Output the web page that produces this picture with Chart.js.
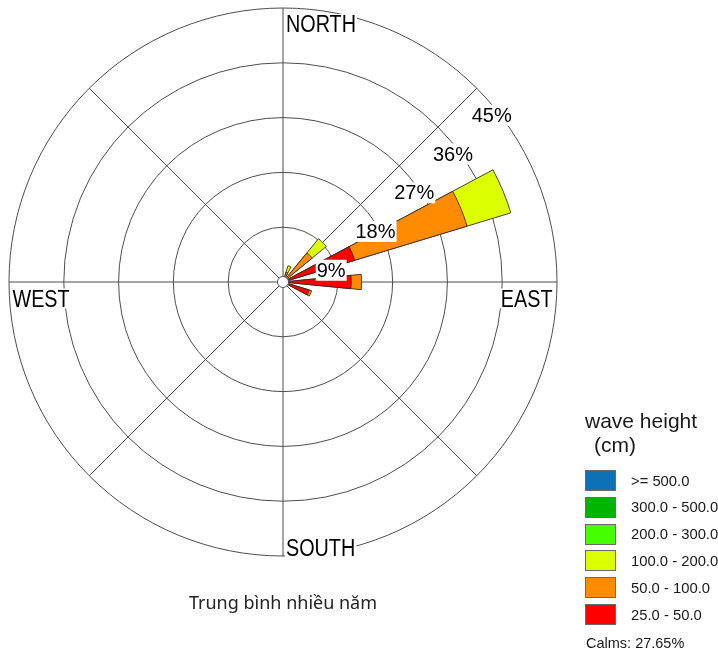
<!DOCTYPE html>
<html>
<head>
<meta charset="utf-8">
<script src="https://cdn.jsdelivr.net/npm/chart.js@4/dist/chart.umd.min.js"></script>
<style>
  html, body { margin: 0; padding: 0; background: #ffffff; }
  #wrap { position: relative; width: 718px; height: 655px; overflow: hidden; }
  #rose { position: absolute; left: 0; top: 0; }
  .txt { position: absolute; white-space: nowrap; color: #1a1a1a; }
  #title { left: 83px; width: 400px; top: 589px; text-align: center;
           font: 18px/26px "Noto Sans", "Open Sans", sans-serif; color: #222; }
  #legTitle1 { left: 585px; top: 409px; font: 21px/24px "Liberation Sans", Arial, sans-serif; }
  #legTitle2 { left: 594px; top: 433px; font: 21px/24px "Liberation Sans", Arial, sans-serif; }
  .swatch { position: absolute; left: 585px; width: 29px; height: 19px; border: 1px solid #6a6a6a; }
  .legText { left: 631px; font: 14.8px/20px "Liberation Sans", Arial, sans-serif; }
  #calms { left: 586px; top: 634px; font: 14.5px/18px "Liberation Sans", Arial, sans-serif; }
</style>
</head>
<body>
<div id="wrap">
  <canvas id="rose" width="718" height="655"></canvas>
  <div class="txt" id="title">Trung bình nhiều năm</div>
  <div class="txt" id="legTitle1">wave height</div>
  <div class="txt" id="legTitle2">(cm)</div>
  <div id="legend"></div>
  <div class="txt" id="calms"></div>
</div>
<script>
// 16 compass sectors, clockwise from north
const directions = ['N', 'NNE', 'NE', 'ENE', 'E', 'ESE', 'SE', 'SSE',
                    'S', 'SSW', 'SW', 'WSW', 'W', 'WNW', 'NW', 'NNW'];

// Frequency (%) of each wave-height class per direction
const h25_50   = [0, 0.9, 0.6, 12.3, 11.2, 4.5, 0, 0, 0, 0, 0, 0, 0, 0, 0, 0];
const h50_100  = [0, 0.8, 5.6, 19.3, 1.7, 0.4, 0, 0, 0, 0, 0, 0, 0, 0, 0, 0];
const h100_200 = [0, 1.1, 3.0, 7.5, 0, 0, 0, 0, 0, 0, 0, 0, 0, 0, 0, 0];
const h200_300 = [0, 0, 0, 0, 0, 0, 0, 0, 0, 0, 0, 0, 0, 0, 0, 0];
const h300_500 = [0, 0, 0, 0, 0, 0, 0, 0, 0, 0, 0, 0, 0, 0, 0, 0];
const h500     = [0, 0, 0, 0, 0, 0, 0, 0, 0, 0, 0, 0, 0, 0, 0, 0];

const calmsPct = 27.65;

// Classes from the innermost band outward
const classNames  = ['25.0 - 50.0', '50.0 - 100.0', '100.0 - 200.0',
                     '200.0 - 300.0', '300.0 - 500.0', '>= 500.0'];
const classSeries = [h25_50, h50_100, h100_200, h200_300, h300_500, h500];
const classColors = ['#ff0000', '#ff8c00', '#dcff00', '#44ff00', '#00b400', '#0b72b8'];

// Ring values and compass words
const ringTicks = [9, 18, 27, 36, 45];
const compassWords = ['NORTH', 'EAST', 'SOUTH', 'WEST'];

// Each sector of 22.5° holds a petal of half that width centred on the
// direction, with an empty gap between petals. North is split in two so
// the sequence can start at 0° and keep the spokes on the compass points.
const PETAL = 11.25, GAP = 11.25;
function arcValues(perDir) {
  const out = [perDir[0]];
  for (let d = 1; d < perDir.length; d++) out.push(0, perDir[d]);
  out.push(0, perDir[0]);
  return out;
}
const arcAngles = [PETAL / 2];
for (let d = 1; d < directions.length; d++) arcAngles.push(GAP, PETAL);
arcAngles.push(GAP, PETAL / 2);

// Stacked petals: each band is drawn as an arc reaching the running total,
// inner bands are drawn on top of outer ones.
const datasets = [];
const running = directions.map(() => 0);
classSeries.forEach((series, k) => {
  const reach = series.map((v, d) => {
    running[d] += v;
    return v > 0 ? +running[d].toFixed(3) : 0;
  });
  datasets.push({
    label: classNames[k],
    data: arcValues(reach),
    backgroundColor: classColors[k],
    borderColor: '#3b2a22',
    borderWidth: (ctx) => (ctx.raw > 0 ? 0.9 : 0),
    angle: (ctx) => arcAngles[ctx.dataIndex],
    order: k
  });
});

// Overlay: calm circle, ring percentages and compass words
const roseLabels = {
  id: 'roseLabels',
  afterDatasetsDraw(chart) {
    const r = chart.scales.r;
    const ctx = chart.ctx;
    const cx = r.xCenter, cy = r.yCenter, R = r.drawingArea;
    ctx.save();

    // calm circle
    ctx.beginPath();
    ctx.arc(cx, cy, 5.5, 0, Math.PI * 2);
    ctx.fillStyle = '#ffffff';
    ctx.fill();
    ctx.lineWidth = 1;
    ctx.strokeStyle = '#555555';
    ctx.stroke();

    // ring percentages along the north-east diagonal
    ctx.font = '20px "Liberation Sans", Arial, sans-serif';
    ctx.textBaseline = 'alphabetic';
    ctx.textAlign = 'left';
    ringTicks.forEach((v) => {
      const d = r.getDistanceFromCenterForValue(v) * Math.SQRT1_2;
      const text = v + '%';
      const x = cx + d - 5;
      const y = cy - d + 33.5;
      const w = ctx.measureText(text).width;
      ctx.fillStyle = '#ffffff';
      ctx.fillRect(x - 1, y - 17, w + 2, 21);
      ctx.fillStyle = '#000000';
      ctx.fillText(text, x, y);
    });

    // compass words just inside the outer ring, in a condensed face
    ctx.font = '23px "Liberation Sans", Arial, sans-serif';
    const squeeze = 0.86;
    const place = {
      NORTH: (w) => [cx + 3, cy - R + 24],
      EAST:  (w) => [cx + R - 4.5 - w, cy + 24.5],
      SOUTH: (w) => [cx + 3, cy + R],
      WEST:  (w) => [cx - R + 3.5, cy + 24.5]
    };
    compassWords.forEach((word) => {
      const w = ctx.measureText(word).width * squeeze;
      const [x, y] = place[word](w);
      ctx.fillStyle = '#ffffff';
      ctx.fillRect(x - 1, y - 18, w + 2, 20);
      ctx.save();
      ctx.translate(x, y);
      ctx.scale(squeeze, 1);
      ctx.fillStyle = '#000000';
      ctx.fillText(word, 0, 0);
      ctx.restore();
    });
    ctx.restore();
  }
};

new Chart(document.getElementById('rose'), {
  type: 'polarArea',
  data: {
    // eight labels give the eight spokes of the rose
    labels: ['N', 'NE', 'E', 'SE', 'S', 'SW', 'W', 'NW'],
    datasets: datasets
  },
  options: {
    responsive: false,
    animation: false,
    layout: { padding: { left: 9, top: 8, right: 160, bottom: 98 } },
    plugins: { legend: { display: false }, tooltip: { enabled: false } },
    scales: {
      r: {
        min: 0,
        max: 45,
        startAngle: 0,
        ticks: { display: false, stepSize: 9 },
        grid: { circular: true, color: '#4d4d4d', lineWidth: 1 },
        angleLines: { display: true, color: '#4d4d4d', lineWidth: 1 },
        pointLabels: { display: false }
      }
    }
  },
  plugins: [roseLabels]
});

// Legend: highest class at the top
const legend = document.getElementById('legend');
for (let i = 0; i < classNames.length; i++) {
  const k = classNames.length - 1 - i;
  const top = 470 + i * 26.8;
  const sw = document.createElement('div');
  sw.className = 'swatch';
  sw.style.top = top + 'px';
  sw.style.background = classColors[k];
  legend.appendChild(sw);
  const t = document.createElement('div');
  t.className = 'txt legText';
  t.style.top = (top + 0.5) + 'px';
  t.textContent = classNames[k];
  legend.appendChild(t);
}
document.getElementById('calms').textContent = 'Calms: ' + calmsPct.toFixed(2) + '%';
</script>
</body>
</html>
